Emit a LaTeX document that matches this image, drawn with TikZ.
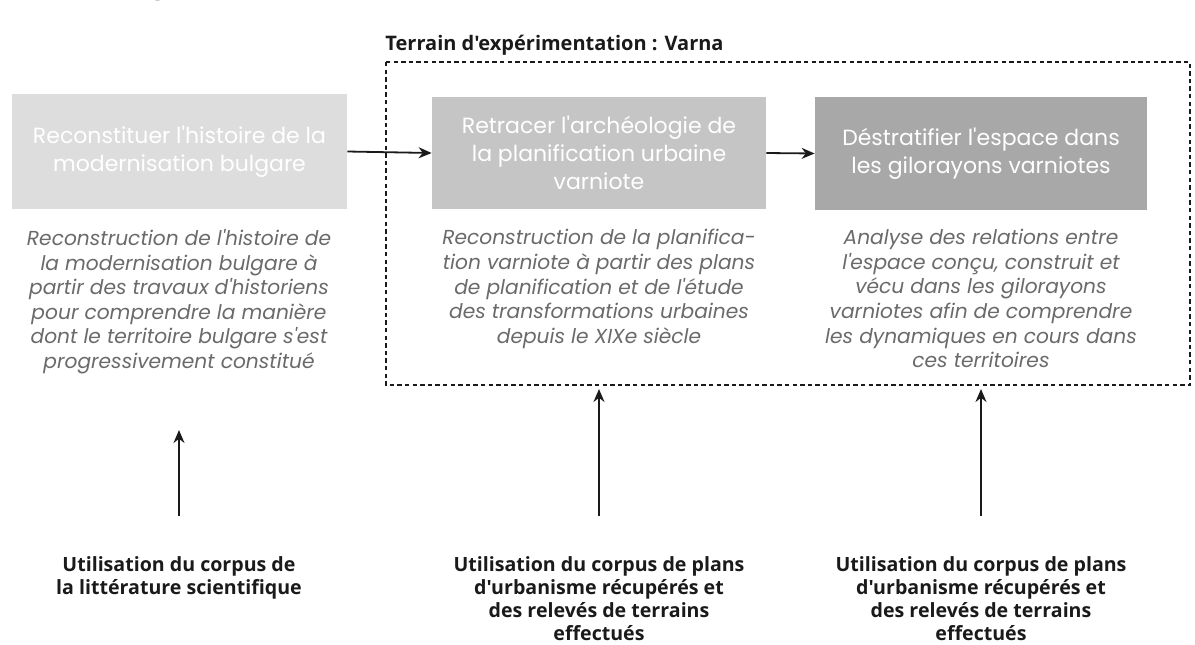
\documentclass[tikz,border=0pt]{standalone}
\usepackage{fontspec}
\usetikzlibrary{arrows.meta}
\newfontfamily\gothic{Poppins}
\newfontfamily\lblfont{Open Sans}
\definecolor{boxA}{HTML}{DDDDDD}
\definecolor{boxB}{HTML}{C5C5C5}
\definecolor{boxC}{HTML}{A8A8A8}
\definecolor{desc}{HTML}{6A6A6A}
\definecolor{ink}{HTML}{1A1A1A}
\tikzset{
  stagebox/.style={draw=none, inner sep=0pt, text=white, align=center,
    font=\gothic\fontsize{11}{14}\selectfont},
  desctext/.style={align=center, text=desc, inner sep=0pt,
    font=\gothic\itshape\fontsize{10.1}{12.3}\selectfont},
  srclabel/.style={align=center, text=ink, inner sep=0pt,
    font=\lblfont\bfseries\fontsize{9.8}{11.5}\selectfont},
  flow/.style={-{Stealth[length=6.5pt,width=5.5pt]}, line width=0.9pt, draw=ink},
  frame/.style={draw=ink, line width=0.7pt, dash pattern=on 2.2pt off 1.6pt}
}
\begin{document}
\begin{tikzpicture}[x=0.5pt,y=-0.5pt]
\useasboundingbox (0,0) rectangle (1195,644);
% cut-off heading
\node[anchor=base west, inner sep=0pt, text=ink, font=\lblfont\bfseries\fontsize{13}{15}\selectfont] (head) at (10,-6) {Méthodologie};
% title of frame
\node[anchor=base west, inner sep=0pt, text=ink, font=\lblfont\bfseries\fontsize{10}{12}\selectfont] (terrain) at (385,50) {Terrain d'expérimentation : Varna};
% dashed frame
\draw[frame] (386,62) rectangle (1190,385);
% stage boxes
\node[stagebox, fill=boxA, minimum width=167.5pt, minimum height=57.5pt] (b1) at (179.5,151.5) {Reconstituer l'histoire de la\\modernisation bulgare};
\node[stagebox, fill=boxB, minimum width=167pt, minimum height=56pt] (b2) at (599,153) {Retracer l'archéologie de\\la planification urbaine\\varniote};
\node[stagebox, fill=boxC, minimum width=166pt, minimum height=56.5pt] (b3) at (981,153.5) {Déstratifier l'espace dans\\les gilorayons varniotes};
\draw[flow] (b1.east) -- (b2.west);
\draw[flow] (b2.east) -- (b3.west);
% descriptions
\node[desctext, anchor=north] (d1) at (179,229) {Reconstruction de l'histoire de\\la modernisation bulgare à\\partir des travaux d'historiens\\pour comprendre la manière\\dont le territoire bulgare s'est\\progressivement constitué};
\node[desctext, anchor=north] (d2) at (599,229) {Reconstruction de la planifica-\\tion varniote à partir des plans\\de planification et de l'étude\\des transformations urbaines\\depuis le XIXe siècle};
\node[desctext, anchor=north] (d3) at (981,229) {Analyse des relations entre\\l'espace conçu, construit et\\vécu dans les gilorayons\\varniotes afin de comprendre\\les dynamiques en cours dans\\ces territoires};
% sources
\node[srclabel, anchor=north] (s1) at (179,556) {Utilisation du corpus de\\la littérature scientifique};
\node[srclabel, anchor=north] (s2) at (599,556) {Utilisation du corpus de plans\\d'urbanisme récupérés et\\des relevés de terrains\\effectués};
\node[srclabel, anchor=north] (s3) at (981,556) {Utilisation du corpus de plans\\d'urbanisme récupérés et\\des relevés de terrains\\effectués};
\coordinate (t1) at (179,430);
\coordinate (t2) at (599,389);
\coordinate (t3) at (981,389);
\coordinate (f1) at (179,516);
\coordinate (f2) at (599,516);
\coordinate (f3) at (981,516);
\draw[flow] (f1) -- (t1);
\draw[flow] (f2) -- (t2);
\draw[flow] (f3) -- (t3);
\end{tikzpicture}
\end{document}
